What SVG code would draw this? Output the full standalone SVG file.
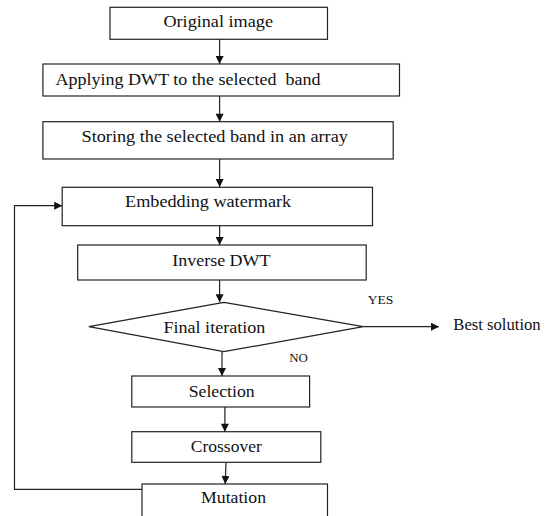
<svg xmlns="http://www.w3.org/2000/svg" width="551" height="516" viewBox="0 0 551 516">
<defs>
<style>
.box{fill:#fff;stroke:#222;stroke-width:1.2}
.t{font-family:'Liberation Serif','Times New Roman','DejaVu Serif',serif;font-size:16.5px;fill:#111}
.s{font-family:'Liberation Serif','Times New Roman','DejaVu Serif',serif;font-size:12px;fill:#111}
.c{fill:none;stroke:#222;stroke-width:1.2}
</style>
<marker id="ah" viewBox="0 0 10 10" refX="10" refY="5" markerWidth="10" markerHeight="8" markerUnits="userSpaceOnUse" orient="auto">
<path d="M0,0 L10,5 L0,10 z" fill="#111"/>
</marker>
</defs>
<rect width="551" height="516" fill="#fff"/>
<g id="connectors">
<line class="c" x1="219.6" y1="39.3" x2="219.6" y2="64" marker-end="url(#ah)"/>
<line class="c" x1="219.6" y1="96" x2="219.6" y2="121.7" marker-end="url(#ah)"/>
<line class="c" x1="219.6" y1="159" x2="219.6" y2="187" marker-end="url(#ah)"/>
<line class="c" x1="219.6" y1="225.7" x2="219.6" y2="245" marker-end="url(#ah)"/>
<line class="c" x1="219.6" y1="280" x2="219.6" y2="302.3" marker-end="url(#ah)"/>
<line class="c" x1="363.3" y1="326.7" x2="439" y2="326.7" marker-end="url(#ah)"/>
<line class="c" x1="222" y1="351.7" x2="222" y2="376" marker-end="url(#ah)"/>
<line class="c" x1="224.9" y1="407" x2="224.9" y2="431.7" marker-end="url(#ah)"/>
<line class="c" x1="226" y1="462.3" x2="225.2" y2="484" marker-end="url(#ah)"/>
<polyline class="c" points="142,489.3 14.5,489.3 14.5,205.7 62.2,205.7" marker-end="url(#ah)"/>
</g>
<g id="original-image">
<rect class="box" x="110" y="7.3" width="217.5" height="32"/>
<text class="t" x="163.4" y="26.7" textLength="109.6" lengthAdjust="spacingAndGlyphs">Original image</text>
</g>
<g id="apply-dwt">
<rect class="box" x="42.9" y="64" width="356.6" height="32"/>
<text class="t" x="55.5" y="85" textLength="265" lengthAdjust="spacingAndGlyphs" xml:space="preserve">Applying DWT to the selected  band</text>
</g>
<g id="storing">
<rect class="box" x="42.9" y="121.7" width="350.3" height="37.3"/>
<text class="t" x="81.5" y="141.7" textLength="266.4" lengthAdjust="spacingAndGlyphs">Storing the selected band in an array</text>
</g>
<g id="embedding">
<rect class="box" x="62.2" y="187.3" width="310.3" height="38.4"/>
<text class="t" x="125.1" y="206.7" textLength="166" lengthAdjust="spacingAndGlyphs">Embedding watermark</text>
</g>
<g id="inverse-dwt">
<rect class="box" x="77.7" y="245" width="288.5" height="35"/>
<text class="t" x="172.2" y="266" textLength="98.4" lengthAdjust="spacingAndGlyphs">Inverse DWT</text>
</g>
<g id="final-iteration">
<polygon class="box" points="223.8,302.3 363.3,326.7 223.8,351.7 88.9,326.7"/>
<text class="t" x="163.4" y="332.7" textLength="102" lengthAdjust="spacingAndGlyphs">Final iteration</text>
</g>
<g id="labels">
<text class="s" x="367.7" y="304" textLength="25.6" lengthAdjust="spacingAndGlyphs">YES</text>
<text class="s" x="289.2" y="362.3" textLength="18.6" lengthAdjust="spacingAndGlyphs">NO</text>
</g>
<g id="best-solution">
<text class="t" x="453.3" y="330" textLength="87.4" lengthAdjust="spacingAndGlyphs">Best solution</text>
</g>
<g id="selection">
<rect class="box" x="131.8" y="376" width="177.8" height="31"/>
<text class="t" x="188.7" y="396.7" textLength="66" lengthAdjust="spacingAndGlyphs">Selection</text>
</g>
<g id="crossover">
<rect class="box" x="131.8" y="431.7" width="189" height="30.6"/>
<text class="t" x="190.8" y="451.7" textLength="71" lengthAdjust="spacingAndGlyphs">Crossover</text>
</g>
<g id="mutation">
<rect class="box" x="142" y="484" width="185.5" height="40"/>
<text class="t" x="201" y="503.3" textLength="65" lengthAdjust="spacingAndGlyphs">Mutation</text>
</g>
</svg>
